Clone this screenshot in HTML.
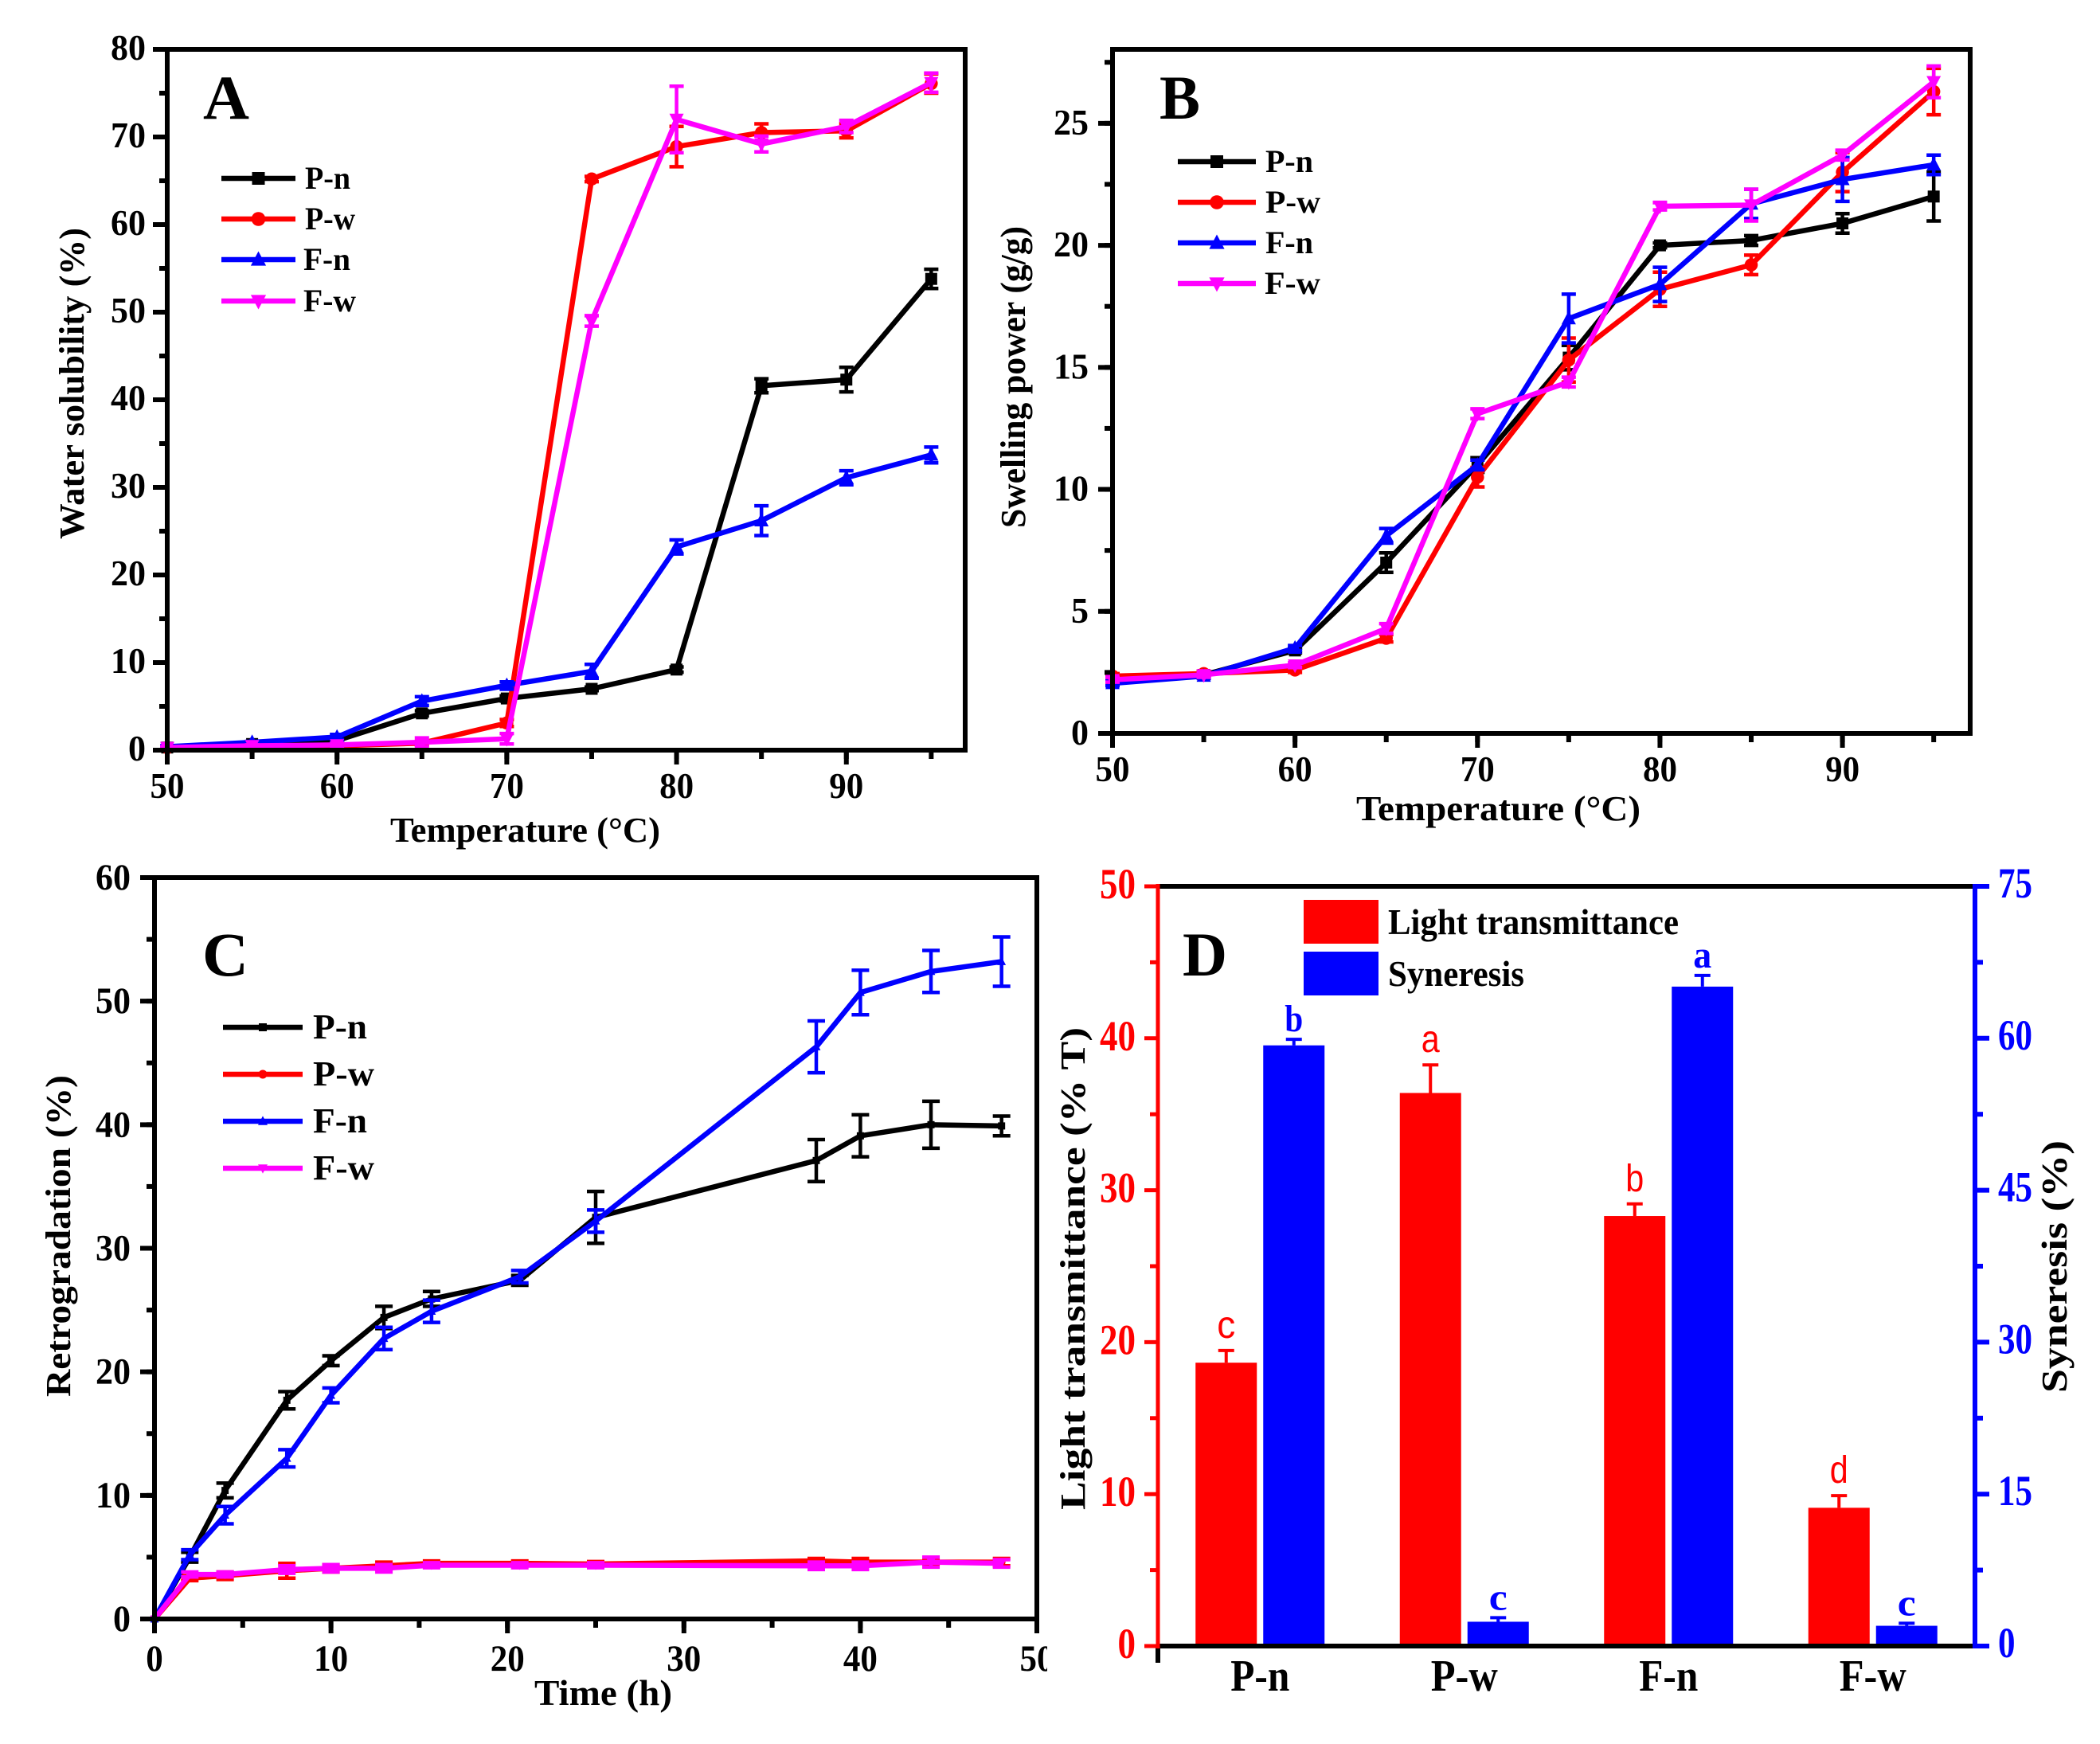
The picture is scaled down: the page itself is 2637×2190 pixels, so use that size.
<!DOCTYPE html>
<html>
<head>
<meta charset="utf-8">
<title>Starch properties: water solubility, swelling power, retrogradation, light transmittance</title>
<style>
html,body{margin:0;padding:0;background:#fff;}
svg{display:block;}
text{font-family:"Liberation Serif",serif;font-weight:bold;fill:#000;}
</style>
</head>
<body>
<svg id="figure" xmlns="http://www.w3.org/2000/svg" width="2637" height="2190" viewBox="0 0 2637 2190">
<rect x="0" y="0" width="2637" height="2190" fill="#fff"/>

<g id="panelA"></g>
<g id="panelB"></g>
<g id="panelC"></g>
<rect x="1315" y="2050" width="60" height="70" fill="#fff"/>
<g id="panelD"></g>

<g>
<text x="255" y="149" font-size="78" textLength="58" lengthAdjust="spacingAndGlyphs">A</text>
<text x="490" y="1057" font-size="44" textLength="339" lengthAdjust="spacingAndGlyphs">Temperature (°C)</text>
<text transform="translate(105,677) rotate(-90)" font-size="44" textLength="391" lengthAdjust="spacingAndGlyphs">Water solubility (%)</text>
<g>
<text x="383" y="237" font-size="40" textLength="57" lengthAdjust="spacingAndGlyphs">P-n</text>
<text x="383" y="288" font-size="40" textLength="63" lengthAdjust="spacingAndGlyphs">P-w</text>
<text x="381" y="339" font-size="40" textLength="59" lengthAdjust="spacingAndGlyphs">F-n</text>
<text x="381" y="391" font-size="40" textLength="66" lengthAdjust="spacingAndGlyphs">F-w</text>
</g>
</g>

<g>
<text x="1456" y="149" font-size="78" textLength="51" lengthAdjust="spacingAndGlyphs">B</text>
<text x="1703" y="1030" font-size="44" textLength="357" lengthAdjust="spacingAndGlyphs">Temperature (°C)</text>
<text transform="translate(1287,663) rotate(-90)" font-size="44" textLength="379" lengthAdjust="spacingAndGlyphs">Swelling power (g/g)</text>
<g>
<text x="1589" y="216" font-size="40" textLength="60" lengthAdjust="spacingAndGlyphs">P-n</text>
<text x="1589" y="267" font-size="40" textLength="69" lengthAdjust="spacingAndGlyphs">P-w</text>
<text x="1589" y="318" font-size="40" textLength="60" lengthAdjust="spacingAndGlyphs">F-n</text>
<text x="1588" y="369" font-size="40" textLength="70" lengthAdjust="spacingAndGlyphs">F-w</text>
</g>
</g>

<g>
<text x="254" y="1225" font-size="78" textLength="58" lengthAdjust="spacingAndGlyphs">C</text>
<text x="671" y="2141" font-size="46" textLength="173" lengthAdjust="spacingAndGlyphs">Time (h)</text>
<text transform="translate(88,1754) rotate(-90)" font-size="44" textLength="404" lengthAdjust="spacingAndGlyphs">Retrogradation (%)</text>
<g>
<text x="393" y="1304" font-size="44" textLength="68" lengthAdjust="spacingAndGlyphs">P-n</text>
<text x="393" y="1363" font-size="44" textLength="77" lengthAdjust="spacingAndGlyphs">P-w</text>
<text x="393" y="1422" font-size="44" textLength="68" lengthAdjust="spacingAndGlyphs">F-n</text>
<text x="393" y="1481" font-size="44" textLength="77" lengthAdjust="spacingAndGlyphs">F-w</text>
</g>
</g>

<g>
<text x="1485" y="1225" font-size="78" textLength="56" lengthAdjust="spacingAndGlyphs">D</text>
<text transform="translate(1362,1896) rotate(-90)" font-size="44" textLength="606" lengthAdjust="spacingAndGlyphs">Light transmittance (% T)</text>
<text transform="translate(2595,1749) rotate(-90)" font-size="46" textLength="317" lengthAdjust="spacingAndGlyphs">Syneresis (%)</text>
<g>
<rect x="1637" y="1130" width="94" height="55" fill="#f00"/>
<rect x="1637" y="1195" width="94" height="55" fill="#00f"/>
<text x="1743" y="1173" font-size="46" textLength="365" lengthAdjust="spacingAndGlyphs">Light transmittance</text>
<text x="1743" y="1238" font-size="46" textLength="171" lengthAdjust="spacingAndGlyphs">Syneresis</text>
</g>
</g>
</svg>

<script>
// ---------- Panel A data: water solubility ----------
const tempA = [50, 55, 60, 65, 70, 75, 80, 85, 90, 95];
const aPn = [0.3, 0.7, 1.1, 4.2, 5.9, 7.0, 9.2, 41.6, 42.3, 53.8];
const aPnErr = [0.1, 0.1, 0.2, 0.3, 0.3, 0.2, 0.3, 0.8, 1.4, 1.1];
const aPw = [0.3, 0.4, 0.5, 0.8, 3.1, 65.2, 68.9, 70.5, 70.7, 76.1];
const aPwErr = [0.1, 0.1, 0.1, 0.2, 0.4, 0.3, 2.3, 1.0, 0.8, 1.1];
const aFn = [0.4, 0.9, 1.5, 5.6, 7.4, 9.0, 23.2, 26.2, 31.1, 33.7];
const aFnErr = [0.1, 0.1, 0.3, 0.5, 0.4, 0.8, 0.8, 1.7, 0.8, 0.9];
const aFw = [0.3, 0.5, 0.6, 0.9, 1.3, 49.0, 72.0, 69.2, 71.2, 76.2];
const aFwErr = [0.1, 0.1, 0.2, 0.5, 0.6, 0.6, 3.8, 0.9, 0.7, 1.1];
const aXTicks = ["50", "60", "70", "80", "90"];
const aYTicks = ["0", "10", "20", "30", "40", "50", "60", "70", "80"];

// ---------- Panel B data: swelling power ----------
const tempB = [50, 55, 60, 65, 70, 75, 80, 85, 90, 95];
const bPn = [2.2, 2.4, 3.4, 7.0, 11.0, 15.4, 20.0, 20.2, 20.9, 22.0];
const bPnErr = [0.1, 0.1, 0.1, 0.4, 0.3, 0.5, 0.1, 0.2, 0.4, 1.0];
const bPw = [2.35, 2.45, 2.6, 3.9, 10.5, 15.3, 18.2, 19.2, 23.0, 26.3];
const bPwErr = [0.1, 0.1, 0.1, 0.15, 0.4, 0.9, 0.7, 0.4, 0.8, 0.95];
const bFn = [2.05, 2.35, 3.5, 8.1, 11.0, 17.0, 18.4, 21.7, 22.7, 23.3];
const bFnErr = [0.1, 0.1, 0.1, 0.3, 0.2, 1.0, 0.7, 0.6, 0.9, 0.4];
const bFw = [2.2, 2.4, 2.8, 4.3, 13.1, 14.4, 21.6, 21.65, 23.7, 26.7];
const bFwErr = [0.1, 0.1, 0.1, 0.2, 0.2, 0.2, 0.15, 0.65, 0.2, 0.65];
const bXTicks = ["50", "60", "70", "80", "90"];
const bYTicks = ["0", "5", "10", "15", "20", "25"];

// ---------- Panel C data: retrogradation ----------
const timeC = [0, 2, 4, 7.5, 10, 13, 15.7, 20.7, 25, 37.5, 40, 44, 48];
const cPn = [0, 5.0, 10.4, 17.7, 20.9, 24.4, 25.9, 27.4, 32.5, 37.1, 39.1, 40.0, 39.9];
const cPnErr = [0, 0.4, 0.6, 0.7, 0.4, 0.9, 0.6, 0.4, 2.1, 1.7, 1.7, 1.9, 0.8];
const cPw = [0, 3.3, 3.5, 3.9, 4.1, 4.3, 4.5, 4.5, 4.45, 4.7, 4.6, 4.6, 4.6];
const cPwErr = [0, 0.2, 0.3, 0.6, 0.3, 0.3, 0.2, 0.2, 0.2, 0.2, 0.3, 0.2, 0.3];
const cFn = [0, 5.2, 8.4, 13.0, 18.1, 22.7, 24.9, 27.7, 32.2, 46.3, 50.7, 52.4, 53.2];
const cFnErr = [0, 0.4, 0.7, 0.7, 0.6, 0.9, 0.9, 0.5, 0.9, 2.1, 1.8, 1.7, 2.0];
const cFw = [0, 3.6, 3.6, 4.0, 4.1, 4.1, 4.35, 4.35, 4.35, 4.3, 4.3, 4.6, 4.5];
const cFwErr = [0, 0.2, 0.2, 0.3, 0.3, 0.3, 0.2, 0.2, 0.2, 0.3, 0.3, 0.4, 0.3];
const cXTicks = ["0", "10", "20", "30", "40", "50"];
const cYTicks = ["0", "10", "20", "30", "40", "50", "60"];

// ---------- Panel D data: bars ----------
const dCategories = ["P-n", "P-w", "F-n", "F-w"];
const dLight = [18.65, 36.4, 28.3, 9.1];
const dLightErr = [0.8, 1.85, 0.8, 0.8];
const dLightLetters = ["c", "a", "b", "d"];
const dSyneresis = [59.3, 2.4, 65.1, 2.0];
const dSyneresisErr = [0.6, 0.4, 1.1, 0.25];
const dSyneresisLetters = ["b", "c", "a", "c"];
const dLeftTicks = ["0", "10", "20", "30", "40", "50"];
const dRightTicks = ["0", "15", "30", "45", "60", "75"];

const NS = "http://www.w3.org/2000/svg";
const linear = (d0, d1, r0, r1) => v => r0 + (v - d0) * (r1 - r0) / (d1 - d0);

function line(g, x1, y1, x2, y2, color, w) {
  const el = document.createElementNS(NS, "line");
  el.setAttribute("x1", x1);
  el.setAttribute("y1", y1);
  el.setAttribute("x2", x2);
  el.setAttribute("y2", y2);
  el.setAttribute("stroke", color);
  el.setAttribute("stroke-width", w);
  g.appendChild(el);
  return el;
}

function drawTick(g, x1, y1, x2, y2, color, w) {
  const el = line(g, x1, y1, x2, y2, color, w);
  
  
}

function drawAxisLine(g, x1, y1, x2, y2, color, w) {
  const el = line(g, x1, y1, x2, y2, color, w);
  
  
}

function drawTickLabel(g, x, y, str, size, charW, anchor, color) {
  const el = document.createElementNS(NS, "text");
  
  
  el.setAttribute("x", x);
  el.setAttribute("y", y);
  el.setAttribute("font-size", size);
  el.setAttribute("text-anchor", anchor);
  el.setAttribute("textLength", charW * str.length);
  el.setAttribute("lengthAdjust", "spacingAndGlyphs");
  el.style.fill = color;
  el.textContent = str;
  g.appendChild(el);
}

function drawMarker(g, kind, cx, cy, color, s) {
  let el;
  if (kind === "square") {
    el = document.createElementNS(NS, "rect");
    el.setAttribute("x", cx - s);
    el.setAttribute("y", cy - s);
    el.setAttribute("width", 2 * s);
    el.setAttribute("height", 2 * s);
  } else if (kind === "circle") {
    el = document.createElementNS(NS, "circle");
    el.setAttribute("cx", cx);
    el.setAttribute("cy", cy);
    el.setAttribute("r", s * 1.1);
  } else {
    const d = kind === "up" ? 1 : -1;
    const h = s * 1.2;
    el = document.createElementNS(NS, "polygon");
    el.setAttribute("points", (cx - h) + "," + (cy + d * h * 0.8) + " " + (cx + h) + "," + (cy + d * h * 0.8) + " " + cx + "," + (cy - d * h * 1.1));
  }
  
  
  el.setAttribute("fill", color);
  g.appendChild(el);
}

function drawErrorBar(g, px, yTop, yBottom, color, capHalf) {
  const el = document.createElementNS(NS, "path");
  
  
  el.setAttribute("d", "M" + px + " " + yTop + "V" + yBottom + "M" + (px - capHalf) + " " + yTop + "H" + (px + capHalf) + "M" + (px - capHalf) + " " + yBottom + "H" + (px + capHalf));
  el.setAttribute("stroke", color);
  el.setAttribute("stroke-width", 4.5);
  el.setAttribute("fill", "none");
  g.appendChild(el);
}

function drawSeriesLine(g, xs, ys, sx, sy, color, w) {
  const el = document.createElementNS(NS, "polyline");
  
  
  el.setAttribute("points", xs.map((x, i) => sx(x) + "," + sy(ys[i])).join(" "));
  el.setAttribute("stroke", color);
  el.setAttribute("stroke-width", w);
  el.setAttribute("stroke-linejoin", "round");
  el.setAttribute("fill", "none");
  g.appendChild(el);
}

function drawLegendEntry(g, x1, x2, y, color, kind, s) {
  const el = line(g, x1, y, x2, y, color, 6.5);
  
  
  drawMarker(g, kind, (x1 + x2) / 2, y, color, s);
}

function drawLinePanel(id, o) {
  const g = document.getElementById(id);
  const sx = linear(o.xMin, o.xMax, o.left, o.right);
  const sy = linear(o.yMin, o.yMax, o.bottom, o.top);
  // series
  const colors = ["#000", "#f00", "#00f", "#f0f"];
  const kinds = ["square", "circle", "up", "down"];
  o.series.forEach((s, k) => {
    const sg = document.createElementNS(NS, "g");
    
    
    g.appendChild(sg);
    s.vals.forEach((v, i) => {
      if (s.errs[i] > 0) drawErrorBar(sg, sx(o.xs[i]), sy(v + s.errs[i]), sy(v - s.errs[i]), colors[k], o.cap);
    });
    drawSeriesLine(sg, o.xs, s.vals, sx, sy, colors[k], o.lineW);
    s.vals.forEach((v, i) => drawMarker(sg, kinds[k], sx(o.xs[i]), sy(v), colors[k], o.markerS));
  });
  // frame
  drawAxisLine(g, o.left - 3, o.top, o.right + 3, o.top, "#000", 6);
  drawAxisLine(g, o.right, o.top, o.right, o.bottom, "#000", 6);
  drawAxisLine(g, o.left, o.top - 3, o.left, o.bottom + 3, "#000", 6);
  drawAxisLine(g, o.left - 3, o.bottom, o.right + 3, o.bottom, "#000", 6);
  // x ticks
  for (let v = o.xMin; v <= o.xMax; v += o.xMinor) drawTick(g, sx(v), o.bottom, sx(v), o.bottom + 11, "#000", 6);
  o.xTicks.forEach(t => {
    drawTick(g, sx(+t), o.bottom, sx(+t), o.bottom + 18, "#000", 6);
    drawTickLabel(g, sx(+t), o.xBase, t, o.fs, 21.5, "middle", "#000");
  });
  // y ticks
  for (let v = o.yMin; v <= o.yMax; v += o.yMinor) drawTick(g, o.left, sy(v), o.left - 10, sy(v), "#000", 6);
  o.yTicks.forEach(t => {
    drawTick(g, o.left, sy(+t), o.left - 18, sy(+t), "#000", 6);
    drawTickLabel(g, o.labelRight, sy(+t) + o.yLabelDy, t, o.fs, 22, "end", "#000");
  });
  // legend
  o.legendY.forEach((y, k) => drawLegendEntry(g, o.legendX1, o.legendX2, y, colors[k], kinds[k], o.legendS));
}

drawLinePanel("panelA", {
  xs: tempA, xMin: 50, xMax: 97, yMin: 0, yMax: 80,
  left: 210, right: 1212, top: 62, bottom: 942,
  xMinor: 5, yMinor: 5, xTicks: aXTicks, yTicks: aYTicks,
  series: [{vals: aPn, errs: aPnErr}, {vals: aPw, errs: aPwErr}, {vals: aFn, errs: aFnErr}, {vals: aFw, errs: aFwErr}],
  cap: 9, lineW: 6.5, markerS: 7.5, fs: 46, xBase: 1002, labelRight: 183, yLabelDy: 13,
  legendX1: 278, legendX2: 371, legendY: [224, 275, 326, 378], legendS: 8
});

drawLinePanel("panelB", {
  xs: tempB, xMin: 50, xMax: 97, yMin: 0, yMax: 28.03,
  left: 1397, right: 2474, top: 62, bottom: 921,
  xMinor: 5, yMinor: 2.5, xTicks: bXTicks, yTicks: bYTicks,
  series: [{vals: bPn, errs: bPnErr}, {vals: bPw, errs: bPwErr}, {vals: bFn, errs: bFnErr}, {vals: bFw, errs: bFwErr}],
  cap: 9, lineW: 6.5, markerS: 7.5, fs: 46, xBase: 981, labelRight: 1367, yLabelDy: 14,
  legendX1: 1479, legendX2: 1577, legendY: [203, 254, 305, 356], legendS: 8
});

drawLinePanel("panelC", {
  xs: timeC, xMin: 0, xMax: 50, yMin: 0, yMax: 60,
  left: 194, right: 1302, top: 1102, bottom: 2033,
  xMinor: 5, yMinor: 5, xTicks: cXTicks, yTicks: cYTicks,
  series: [{vals: cPn, errs: cPnErr}, {vals: cPw, errs: cPwErr}, {vals: cFn, errs: cFnErr}, {vals: cFw, errs: cFwErr}],
  cap: 11, lineW: 6.5, markerS: 4.5, fs: 47, xBase: 2098, labelRight: 164, yLabelDy: 15,
  legendX1: 280, legendX2: 380, legendY: [1290, 1349, 1408, 1467], legendS: 5
});

// ---------- Panel D ----------
function drawBar(g, x, y, w, h, color) {
  const el = document.createElementNS(NS, "rect");
  
  
  el.setAttribute("x", x);
  el.setAttribute("y", y);
  el.setAttribute("width", w);
  el.setAttribute("height", h);
  el.setAttribute("fill", color);
  g.appendChild(el);
}

function drawBarError(g, px, yBar, yTop, color) {
  const el = document.createElementNS(NS, "path");
  
  
  el.setAttribute("d", "M" + px + " " + yBar + "V" + yTop + "M" + (px - 10) + " " + yTop + "H" + (px + 10));
  el.setAttribute("stroke", color);
  el.setAttribute("stroke-width", 4);
  el.setAttribute("fill", "none");
  g.appendChild(el);
}

function drawSignificance(g, x, y, str, color, family, weight) {
  const el = document.createElementNS(NS, "text");
  
  
  el.setAttribute("x", x);
  el.setAttribute("y", y);
  el.setAttribute("font-size", 48);
  el.setAttribute("text-anchor", "middle");
  el.setAttribute("textLength", 23);
  el.setAttribute("lengthAdjust", "spacingAndGlyphs");
  el.style.fill = color;
  el.style.fontFamily = family;
  el.style.fontWeight = weight;
  el.textContent = str;
  g.appendChild(el);
}

function drawCategoryLabel(g, x, y, str) {
  const el = document.createElementNS(NS, "text");
  
  
  el.setAttribute("x", x);
  el.setAttribute("y", y);
  el.setAttribute("font-size", 56);
  el.setAttribute("text-anchor", "middle");
  el.setAttribute("textLength", str.indexOf("w") >= 0 ? 84 : 74);
  el.setAttribute("lengthAdjust", "spacingAndGlyphs");
  el.textContent = str;
  g.appendChild(el);
}

(function () {
  const g = document.getElementById("panelD");
  const left = 1454, right = 2480, top = 1113, bottom = 2067;
  const band = i => left + (i + 0.5) * (right - left) / dCategories.length;
  const yL = linear(0, 50, bottom, top);
  const yR = linear(0, 75, bottom, top);
  const barW = 77, gap = 8;
  dCategories.forEach((c, i) => {
    const rx = band(i) - gap / 2 - barW;
    const bx = band(i) + gap / 2;
    const lt = dLight[i] + dLightErr[i];
    const st = dSyneresis[i] + dSyneresisErr[i];
    drawBarError(g, rx + barW / 2, yL(dLight[i]), yL(lt), "#f00");
    drawBar(g, rx, yL(dLight[i]), barW, bottom - yL(dLight[i]), "#f00");
    drawSignificance(g, rx + barW / 2, yL(lt) - 16, dLightLetters[i], "#f00", '"Liberation Sans",sans-serif', "normal");
    drawBarError(g, bx + barW / 2, yR(dSyneresis[i]), yR(st), "#00f");
    drawBar(g, bx, yR(dSyneresis[i]), barW, bottom - yR(dSyneresis[i]), "#00f");
    drawSignificance(g, bx + barW / 2, yR(st) - 10, dSyneresisLetters[i], "#00f", '"Liberation Serif",serif', "bold");
    drawCategoryLabel(g, band(i), 2123, c);
  });
  // axes
  drawAxisLine(g, left, top, right, top, "#000", 6);
  drawAxisLine(g, left, bottom, right, bottom, "#000", 6);
  drawTick(g, left, bottom, left, bottom + 21, "#000", 6);
  drawAxisLine(g, left, top - 3, left, bottom + 3, "#f00", 5);
  drawAxisLine(g, right, top - 3, right, bottom + 3, "#00f", 6);
  for (let v = 5; v < 50; v += 10) drawTick(g, left, yL(v), left - 10, yL(v), "#f00", 5);
  for (let v = 7.5; v < 75; v += 15) drawTick(g, right, yR(v), right + 10, yR(v), "#00f", 6);
  dLeftTicks.forEach(t => {
    drawTick(g, left, yL(+t), left - 17, yL(+t), "#f00", 5);
    drawTickLabel(g, 1426, yL(+t) + 15, t, 54, 22.5, "end", "#f00");
  });
  dRightTicks.forEach(t => {
    drawTick(g, right, yR(+t), right + 18, yR(+t), "#00f", 6);
    drawTickLabel(g, 2509, yR(+t) + 14, t, 54, 21.5, "start", "#00f");
  });
})();
</script>
</body>
</html>
